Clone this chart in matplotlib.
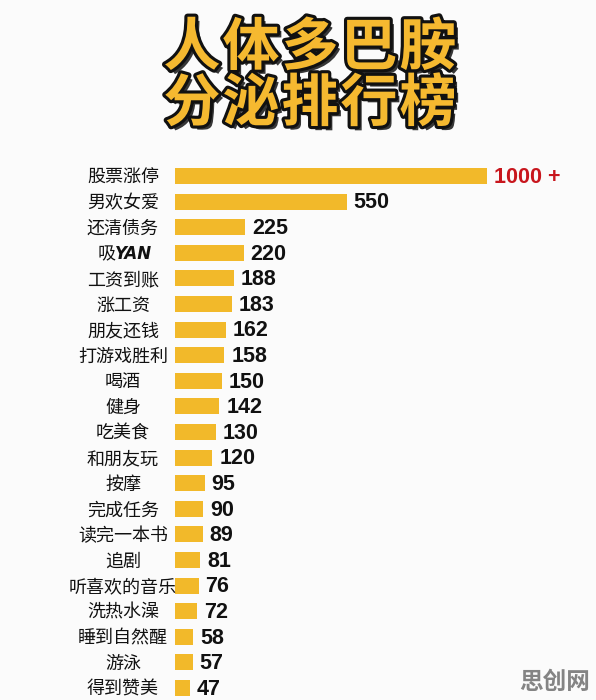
import matplotlib
matplotlib.use("Agg")
import matplotlib.pyplot as plt
import matplotlib.patheffects as pe

plt.rcParams['font.family'] = ['Noto Sans CJK SC', 'DejaVu Sans']

# datos
etiquetas = ["股票涨停", "男欢女爱", "还清债务", "吸YAN", "工资到账", "涨工资",
             "朋友还钱", "打游戏胜利", "喝酒", "健身", "吃美食", "和朋友玩",
             "按摩", "完成任务", "读完一本书", "追剧", "听喜欢的音乐",
             "洗热水澡", "睡到自然醒", "游泳", "得到赞美"]
valores = [1000, 550, 225, 220, 188, 183, 162, 158, 150, 142, 130, 120,
           95, 90, 89, 81, 76, 72, 58, 57, 47]
textos_valor = ["1000 +"] + [str(v) for v in valores[1:]]
titulo = ["人体多巴胺", "分泌排行榜"]

W, H = 596, 700
fig = plt.figure(figsize=(W / 100, H / 100), dpi=100)
fig.patch.set_facecolor("#fbfbfb")

# eje en coordenadas de pixel
x0, top = 175, 163.2
ax = fig.add_axes([x0 / W, 0, (W - x0) / W, (H - top) / H])
ax.set_facecolor("none")
paso = 25.6
ax.set_xlim(0, (W - x0) / 0.312)
ax.set_ylim((H - 176) / paso, -0.5)
ax.axis("off")

pos = list(range(len(valores)))
ax.barh(pos, valores, height=0.62, color="#f2b92a", edgecolor="none")

num_font = ["Liberation Sans", "DejaVu Sans"]
for i, (v, t) in enumerate(zip(valores, textos_valor)):
    color = "#c8161d" if i == 0 else "#111111"
    ax.text(v + 22, i + 0.05, t, va="center", ha="left", fontsize=15.5,
            fontweight="bold", color=color, family=num_font)

# etiquetas de categoria centradas
for i, lab in enumerate(etiquetas):
    y = 1 - (177.5 + paso * i) / H
    if lab == "吸YAN":
        fig.text(116 / W, y, "吸", ha="right", va="center", fontsize=13,
                 color="#111111")
        fig.text(115 / W, y, "YAN", ha="left", va="center", fontsize=12,
                 fontweight="bold", style="italic", color="#111111",
                 family=["DejaVu Sans"])
        continue
    fig.text(123 / W, y, lab, ha="center", va="center", fontsize=13,
             color="#111111")

# titulo, caracter por caracter para separar un poco
efectos = [pe.withSimplePatchShadow(offset=(3, -3), shadow_rgbFace="#222222", alpha=0.9),
           pe.Stroke(linewidth=4.5, foreground="#111111"), pe.Normal()]
for txt, y in zip(titulo, [48, 104]):
    for k, ch in enumerate(txt):
        fig.text((310 + (k - 2) * 59) / W, 1 - y / H, ch, ha="center",
                 va="center", fontsize=41, fontweight="black",
                 color="#f5b930", path_effects=efectos)

# marca de agua
fig.text(590 / W, 1 - 682 / H, "思创网", ha="right", va="center", fontsize=17,
         fontweight="bold", color="#666666", alpha=0.8)

fig.savefig("out.png", dpi=100, facecolor=fig.get_facecolor())
